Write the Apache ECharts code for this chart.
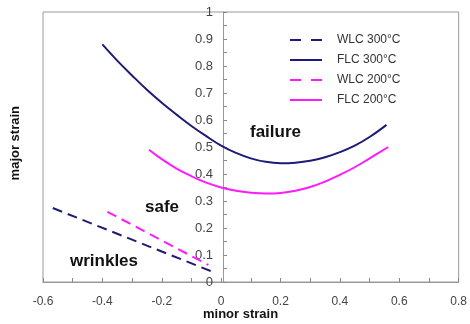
<!DOCTYPE html>
<html><head><meta charset="utf-8">
<script src="https://cdn.jsdelivr.net/npm/echarts@6/dist/echarts.min.js"></script>
<style>html,body{margin:0;padding:0;background:#fff}#c{width:470px;height:324px}</style>
</head><body><div id="c"></div>
<script>
const seriesNames = ['WLC 300°C', 'FLC 300°C', 'WLC 200°C', 'FLC 200°C'];
const wlc300 = [[-0.567, 0.274], [-0.027, 0.037]];
const flc300 = [[-0.4, 0.88], [-0.35, 0.82], [-0.3, 0.765], [-0.25, 0.712], [-0.2, 0.664], [-0.15, 0.62], [-0.1, 0.578], [-0.05, 0.54], [0, 0.505], [0.05, 0.478], [0.1, 0.458], [0.15, 0.445], [0.2, 0.44], [0.25, 0.442], [0.3, 0.449], [0.35, 0.462], [0.4, 0.481], [0.45, 0.505], [0.5, 0.537], [0.557, 0.582]];
const wlc200 = [[-0.383, 0.26], [-0.043, 0.063]];
const flc200 = [[-0.243, 0.49], [-0.2, 0.455], [-0.15, 0.42], [-0.1, 0.392], [-0.05, 0.368], [0, 0.35], [0.05, 0.338], [0.1, 0.331], [0.15, 0.328], [0.2, 0.33], [0.25, 0.338], [0.3, 0.352], [0.35, 0.372], [0.4, 0.397], [0.45, 0.425], [0.5, 0.458], [0.563, 0.5]];
const xTicks = { min: -0.6, max: 0.8, interval: 0.2 };
const yTicks = { min: 0, max: 1, interval: 0.1 };
const navy = '#1c1c78', mag = '#ff1aff';
const dashIcon = 'path://M0,0H11V2H0Z M21,0H32V2H21Z';
const solidIcon = 'path://M0,0H32V2H0Z';

const chart = echarts.init(document.getElementById('c'));
const font = 'Arial, Liberation Sans';
chart.setOption({
  animation: false,
  grid: { left: 43, right: 7, top: 12, bottom: 42, show: true, borderColor: '#999', borderWidth: 1 },
  xAxis: {
    type: 'value', min: xTicks.min, max: xTicks.max, interval: xTicks.interval,
    axisLine: { onZero: false, lineStyle: { color: '#999' } },
    axisTick: { inside: true, length: 4, lineStyle: { color: '#888' } },
    minorTick: { show: true, splitNumber: 2, length: 4, lineStyle: { color: '#888' } },
    splitLine: { show: false },
    axisLabel: { margin: 14, color: '#444', fontSize: 12, fontFamily: font, formatter: v => String(Math.round(v * 10) / 10) }
  },
  yAxis: {
    type: 'value', min: yTicks.min, max: yTicks.max, interval: yTicks.interval,
    offset: -180,
    axisLine: { onZero: false, lineStyle: { color: '#999' } },
    axisTick: { inside: true, length: 4, lineStyle: { color: '#888' } },
    minorTick: { show: true, splitNumber: 2, length: 4, lineStyle: { color: '#888' } },
    splitLine: { show: false },
    axisLabel: { margin: 10, color: '#444', fontSize: 13, fontFamily: font, formatter: v => String(Math.round(v * 10) / 10) }
  },
  legend: {
    orient: 'vertical', left: 290, top: 34, padding: 0, itemWidth: 32, itemHeight: 2, itemGap: 8,
    textStyle: { color: '#333', fontSize: 12, fontFamily: font, padding: [0, 0, 0, 10] },
    data: [
      { name: seriesNames[0], icon: dashIcon },
      { name: seriesNames[1], icon: solidIcon },
      { name: seriesNames[2], icon: dashIcon },
      { name: seriesNames[3], icon: solidIcon }
    ]
  },
  series: [
    { name: seriesNames[0], type: 'line', data: wlc300, showSymbol: false, symbol: 'none', color: navy, lineStyle: { color: navy, width: 2, type: [10, 6] } },
    { name: seriesNames[1], type: 'line', data: flc300, showSymbol: false, symbol: 'none', smooth: 0.4, color: navy, lineStyle: { color: navy, width: 2 } },
    { name: seriesNames[2], type: 'line', data: wlc200, showSymbol: false, symbol: 'none', color: mag, lineStyle: { color: mag, width: 2, type: [10, 6] } },
    { name: seriesNames[3], type: 'line', data: flc200, showSymbol: false, symbol: 'none', smooth: 0.4, color: mag, lineStyle: { color: mag, width: 2 } }
  ],
  graphic: [
    { type: 'text', left: 250, top: 124, style: { text: 'failure', font: 'bold 17px ' + font, fill: '#111' } },
    { type: 'text', left: 145, top: 199, style: { text: 'safe', font: 'bold 17px ' + font, fill: '#111' } },
    { type: 'text', left: 70, top: 253, style: { text: 'wrinkles', font: 'bold 17px ' + font, fill: '#111' } },
    { type: 'text', left: 203, top: 308, style: { text: 'minor strain', font: 'bold 13px ' + font, fill: '#111' } },
    { type: 'text', left: 9, top: 106, rotation: Math.PI / 2, style: { text: 'major strain', font: 'bold 13px ' + font, fill: '#111' } }
  ]
});
</script></body></html>
